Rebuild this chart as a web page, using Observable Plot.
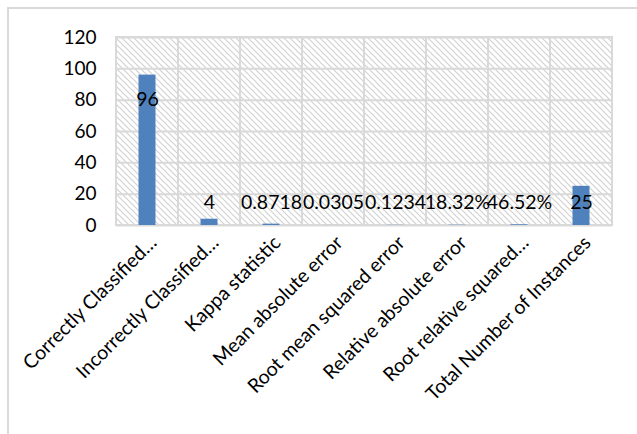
<!DOCTYPE html>
<html>
<head>
<meta charset="utf-8">
<script src="https://cdn.jsdelivr.net/npm/d3@7"></script>
<script src="https://cdn.jsdelivr.net/npm/@observablehq/plot@0.6"></script>
<style>
  html, body { margin: 0; padding: 0; background: #fff; width: 637px; height: 434px; overflow: hidden; }
  #frame { position: absolute; left: 7px; top: 7px; width: 700px; height: 500px;
           border-top: 2px solid #d9d9d9; border-left: 2px solid #d9d9d9; }
  #chart { position: absolute; left: 0; top: 0; }
</style>
</head>
<body>
<div id="frame"></div>
<div id="chart"></div>
<script>
// Classifier evaluation summary
const metrics = [
  "Correctly Classified…",
  "Incorrectly Classified…",
  "Kappa statistic",
  "Mean absolute error",
  "Root mean squared error",
  "Relative absolute error",
  "Root relative squared…",
  "Total Number of Instances"
];
const values = [96, 4, 0.8718, 0.0305, 0.1234, 0.1832, 0.4652, 25];
const valueLabels = ["96", "4", "0.8718", "0.0305", "0.1234", "18.32%", "46.52%", "25"];
// where each data label sits, in axis units
const labelAt = [80, 14.5, 14.5, 14.5, 14.5, 14.5, 14.5, 14.5];
const yTicks = [0, 20, 40, 60, 80, 100, 120];

const rows = metrics.map((m, i) => ({metric: m, value: values[i], label: valueLabels[i], ly: labelAt[i]}));
const font = "Lato, 'Open Sans', sans-serif";

const plot = Plot.plot({
  width: 637,
  height: 434,
  marginLeft: 116,
  marginRight: 25,
  marginTop: 37,
  marginBottom: 209,
  style: {fontFamily: font, fontSize: "19px", color: "#000", background: "transparent"},
  x: {domain: metrics, padding: 0, label: null},
  y: {domain: [0, 120], label: null},
  marks: [
    // hatched cells, one per category, their edges forming the vertical grid
    Plot.barY(metrics, {x: d => d, y1: 0, y2: 120, fill: "url(#hatch)", stroke: "#d9d9d9", strokeWidth: 2}),
    Plot.ruleY(yTicks, {stroke: "#d9d9d9", strokeWidth: 2}),
    Plot.barY(rows, {x: "metric", y: "value", fill: "#4f81bd", insetLeft: 22.5, insetRight: 22.5}),
    Plot.text(rows, {x: "metric", y: "ly", text: "label", fill: "#000", fontSize: 19.5}),
    Plot.axisY({ticks: yTicks, tickSize: 0, tickPadding: 20, fontSize: 19}),
    Plot.axisX({tickSize: 0, tickRotate: -45, tickPadding: 6, dx: 6, dy: 8, fontSize: 19.5})
  ]
});

// diagonal hatch used for the plotting area
const svg = d3.select(plot);
const pat = svg.insert("defs", ":first-child")
  .append("pattern")
  .attr("id", "hatch")
  .attr("patternUnits", "userSpaceOnUse")
  .attr("width", 6).attr("height", 6);
pat.append("rect").attr("width", 6).attr("height", 6).attr("fill", "#fff");
pat.append("path").attr("d", "M-1,-1 L7,7 M-7,-1 L1,7 M5,-1 L13,7")
  .attr("stroke", "#d2d2d2").attr("stroke-width", 1.2);

document.getElementById("chart").appendChild(plot);
</script>
</body>
</html>
